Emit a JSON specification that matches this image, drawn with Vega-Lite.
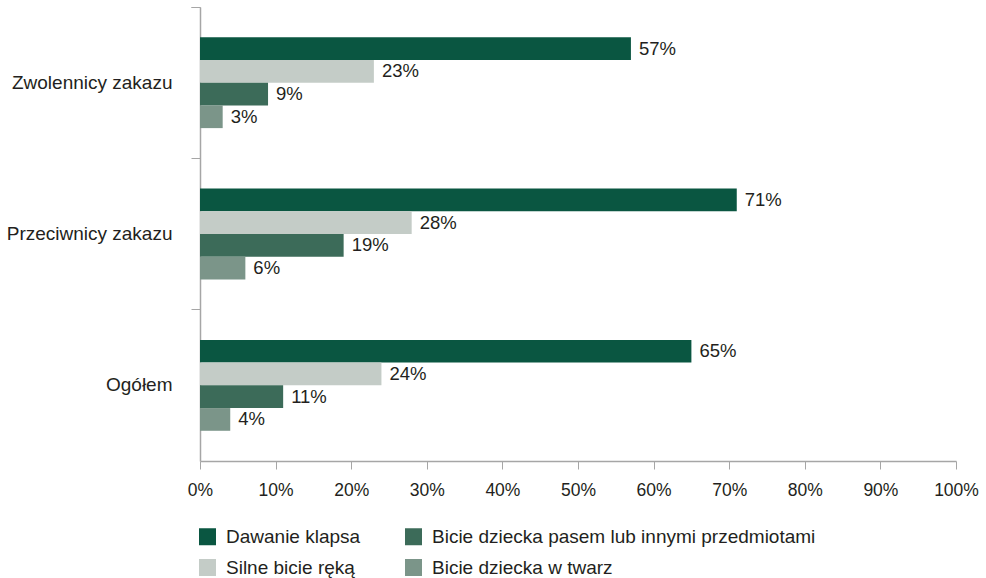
{
  "$schema": "https://vega.github.io/schema/vega-lite/v6.json",
  "autosize": {"type": "none"},
  "width": 756,
  "height": 454,
  "padding": {"left": 200, "top": 7, "right": 30, "bottom": 117},
  "background": "white",
  "config": {
    "view": {"stroke": null},
    "font": "Liberation Sans",
    "text": {"font": "Liberation Sans"}
  },
  "data": {
    "values": [
      {"group": "Zwolennicy zakazu", "series": "Dawanie klapsa", "value": 0.57},
      {"group": "Zwolennicy zakazu", "series": "Silne bicie ręką", "value": 0.23},
      {"group": "Zwolennicy zakazu", "series": "Bicie dziecka pasem lub innymi przedmiotami", "value": 0.09},
      {"group": "Zwolennicy zakazu", "series": "Bicie dziecka w twarz", "value": 0.03},
      {"group": "Przeciwnicy zakazu", "series": "Dawanie klapsa", "value": 0.71},
      {"group": "Przeciwnicy zakazu", "series": "Silne bicie ręką", "value": 0.28},
      {"group": "Przeciwnicy zakazu", "series": "Bicie dziecka pasem lub innymi przedmiotami", "value": 0.19},
      {"group": "Przeciwnicy zakazu", "series": "Bicie dziecka w twarz", "value": 0.06},
      {"group": "Ogółem", "series": "Dawanie klapsa", "value": 0.65},
      {"group": "Ogółem", "series": "Silne bicie ręką", "value": 0.24},
      {"group": "Ogółem", "series": "Bicie dziecka pasem lub innymi przedmiotami", "value": 0.11},
      {"group": "Ogółem", "series": "Bicie dziecka w twarz", "value": 0.04}
    ]
  },
  "encoding": {
    "y": {
      "field": "group",
      "type": "nominal",
      "sort": ["Zwolennicy zakazu", "Przeciwnicy zakazu", "Ogółem"],
      "scale": {"paddingInner": 0, "paddingOuter": 0},
      "axis": {
        "title": null,
        "bandPosition": 0,
        "tickExtra": true,
        "tickSize": 9,
        "tickColor": "#a6a6a6",
        "domainColor": "#a6a6a6",
        "domainWidth": 1.5,
        "labelFontSize": 19,
        "labelColor": "#231f20",
        "labelPadding": 19,
        "labelFont": "Liberation Sans"
      }
    },
    "yOffset": {
      "field": "series",
      "type": "nominal",
      "scale": {
        "domain": ["_top", "Dawanie klapsa", "Silne bicie ręką", "Bicie dziecka pasem lub innymi przedmiotami", "Bicie dziecka w twarz", "_bottom"],
        "paddingInner": 0,
        "paddingOuter": 0.33
      }
    },
    "x": {
      "field": "value",
      "type": "quantitative",
      "scale": {"domain": [0, 1], "nice": false},
      "axis": {
        "title": null,
        "values": [0, 0.1, 0.2, 0.3, 0.4, 0.5, 0.6, 0.7, 0.8, 0.9, 1],
        "format": ".0%",
        "grid": false,
        "labelFlush": false,
        "tickSize": 8,
        "tickColor": "#a6a6a6",
        "domainColor": "#a6a6a6",
        "domainWidth": 1.5,
        "labelFontSize": 17.5,
        "labelColor": "#231f20",
        "labelPadding": 12,
        "labelFont": "Liberation Sans"
      }
    }
  },
  "layer": [
    {
      "mark": {"type": "bar"},
      "encoding": {
        "color": {
          "field": "series",
          "type": "nominal",
          "scale": {
            "domain": ["Dawanie klapsa", "Bicie dziecka pasem lub innymi przedmiotami", "Silne bicie ręką", "Bicie dziecka w twarz"],
            "range": ["#0a5641", "#3c6b59", "#c4ccc7", "#7b9589"]
          },
          "legend": {
            "title": null,
            "orient": "none",
            "legendX": -2,
            "legendY": 520,
            "direction": "horizontal",
            "columns": 2,
            "symbolType": "square",
            "symbolSize": 289,
            "symbolStrokeWidth": 0,
            "labelFontSize": 19,
            "labelColor": "#231f20",
            "labelFont": "Liberation Sans",
            "labelOffset": 9,
            "labelLimit": 500,
            "rowPadding": 11,
            "columnPadding": 43
          }
        }
      }
    },
    {
      "mark": {"type": "text", "align": "left", "baseline": "middle", "dx": 8, "fontSize": 18.5, "color": "#231f20", "font": "Liberation Sans"},
      "encoding": {
        "text": {"field": "value", "type": "quantitative", "format": ".0%"},
        "detail": {"field": "series"}
      }
    }
  ]
}
